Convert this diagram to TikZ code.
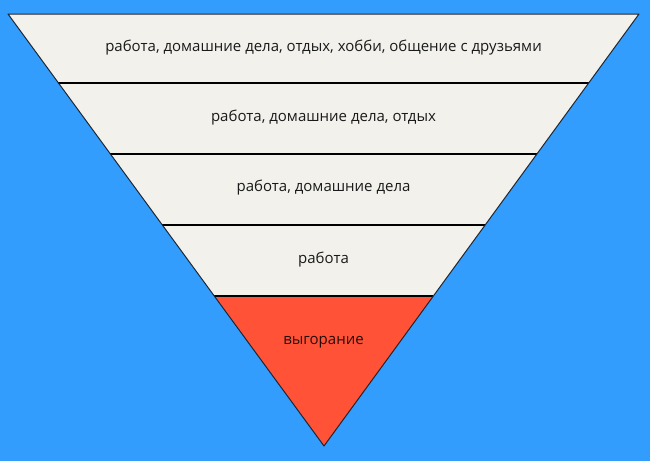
\documentclass[tikz,border=0pt]{standalone}
\usepackage{fontspec}
\setmainfont{Open Sans}
\usetikzlibrary{calc}
\definecolor{bgblue}{HTML}{339DFD}
\definecolor{cream}{HTML}{F2F1EC}
\definecolor{burn}{HTML}{FF5237}
\definecolor{edge}{HTML}{1E2633}
\definecolor{ink}{HTML}{1A1A1A}
\tikzset{
  lbl/.style={font=\fontsize{15}{17}\selectfont, text=ink, inner sep=0pt, anchor=center},
  bandline/.style={draw=black, line width=1.4pt},
  outline/.style={draw=edge, line width=1pt, line join=round}
}
\begin{document}
\begin{tikzpicture}[x=1pt,y=-1pt]
\fill[bgblue] (0,0) rectangle (650,461);
\useasboundingbox (0,0) rectangle (650,461);
\coordinate (A) at (8,14);
\coordinate (B) at (639,14);
\coordinate (C) at (324,446);
\foreach \n/\t in {1/0.1597,2/0.3241,3/0.4884,4/0.6528}{
  \coordinate (L\n) at ($(A)!\t!(C)$);
  \coordinate (R\n) at ($(B)!\t!(C)$);
}
\fill[cream] (A) -- (B) -- (R4) -- (L4) -- cycle;
\fill[burn] (L4) -- (R4) -- (C) -- cycle;
\foreach \n in {1,2,3,4}{
  \draw[bandline] (L\n) -- (R\n);
}
\draw[outline] (A) -- (B) -- (C) -- cycle;
\node[lbl] (t1) at (323.5,47.5) {работа, домашние дела, отдых, хобби, общение с друзьями};
\node[lbl] (t2) at (323.5,118) {работа, домашние дела, отдых};
\node[lbl] (t3) at (323.5,188) {работа, домашние дела};
\node[lbl] (t4) at (323.5,259.5) {работа};
\node[lbl, text=black!85!burn] (t5) at (323.5,342) {выгорание};
\end{tikzpicture}
\end{document}
